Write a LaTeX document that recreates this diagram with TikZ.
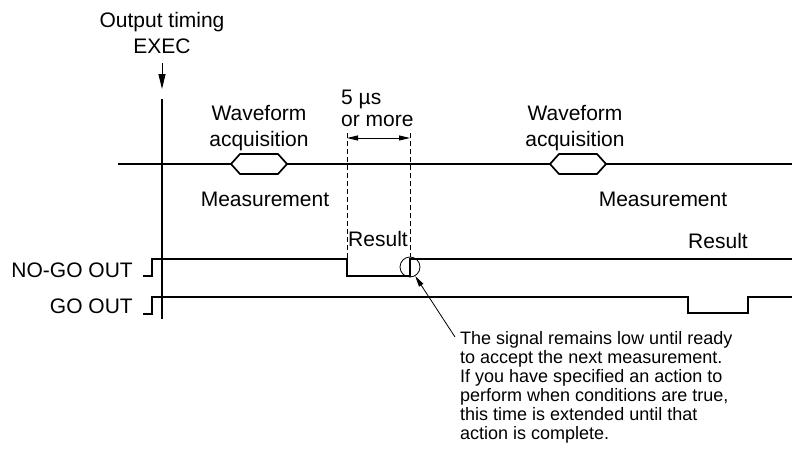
\documentclass[tikz,border=0pt]{standalone}
\usepackage{fontspec}
\setmainfont{Liberation Sans}
\usepackage{tikz}
\usetikzlibrary{arrows.meta, positioning, calc}

\begin{document}
\begin{tikzpicture}[
  x=1pt, y=-1pt,
  lbl/.style={font=\fontsize{21}{26}\selectfont, inner sep=0pt, align=center},
  note/.style={font=\fontsize{18}{19}\selectfont, inner sep=0pt, align=left},
  sig/.style={line width=1.7pt},
  guide/.style={line width=0.7pt, dash pattern=on 5pt off 3pt},
  acq/.style={line width=1.7pt, fill=white, line join=miter},
  >={Triangle[length=11pt, width=5pt]}
]
  \useasboundingbox (0,0) rectangle (792,455);

  % Trigger
  \node[lbl, anchor=north] (exec) at (162,12) {Output timing\\EXEC};
  \coordinate (trig) at (162,89);
  \draw[-{Triangle[length=15pt, width=7pt]}, line width=0.9pt]
    ([yshift=-9pt]exec.south) -- (trig);
  \draw[sig] (162,99) -- (162,319);

  % Measurement line
  \draw[sig] (118,164) -- (792,164);
  \foreach \cx in {259,578} {
    \draw[acq] (\cx-28,164) -- (\cx-19,154) -- (\cx+19,154) -- (\cx+28,164)
      -- (\cx+19,174) -- (\cx-19,174) -- cycle;
  }
  \node[lbl] (wave1) at (259,128.5) {Waveform\\acquisition};
  \node[lbl] (wave2) at (575,128.5) {Waveform\\acquisition};
  \node[lbl] (meas1) at (265,199.5) {Measurement};
  \node[lbl] (meas2) at (663,199.5) {Measurement};

  % Minimum gap
  \node[lbl, font=\fontsize{21}{22}\selectfont, align=left, anchor=north west]
    (gap) at (341,90) {5 µs\\or more};
  \draw[guide] (347,133) -- (347,259);
  \draw[guide] (410,133) -- (410,257);
  \coordinate (gapL) at (347,138);
  \coordinate (gapR) at (410,138);
  \draw[<->, line width=0.9pt] (gapL) -- (gapR);
  \node[lbl] (res1) at (378,238.5) {Result};
  \node[lbl] (res2) at (718,240.5) {Result};

  % Outputs
  \node[lbl, anchor=east] (nogo) at (133,270) {NO-GO OUT};
  \draw[sig] (143,276) -- (152,276) -- (152,259) -- (347,259) -- (347,276)
    -- (410,276) -- (410,259) -- (792,259);
  \node[lbl, anchor=east] (go) at (133,306) {GO OUT};
  \draw[sig] (143,314) -- (152,314) -- (152,297) -- (688,297) -- (688,313)
    -- (748,313) -- (748,297) -- (792,297);

  % Annotation
  \node[draw, circle, minimum size=20pt, inner sep=0pt, line width=0.8pt]
    (mark) at (410,267) {};
  \node[note, anchor=north west] (note) at (460,331)
    {The signal remains low until ready\\to accept the next measurement.\\
     If you have specified an action to\\perform when conditions are true,\\
     this time is extended until that\\action is complete.};
  \draw[->, line width=0.8pt] ([xshift=-5pt, yshift=-6pt]note.north west)
    -- (mark.-60);
\end{tikzpicture}
\end{document}
